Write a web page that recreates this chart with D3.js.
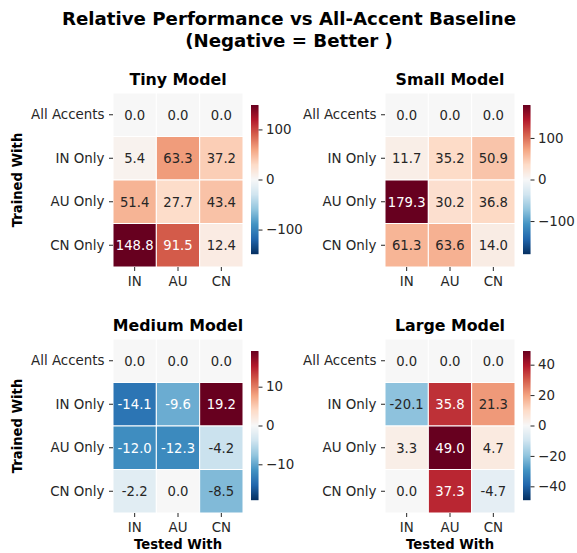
<!DOCTYPE html>
<html>
<head>
<meta charset="utf-8">
<script src="https://cdn.jsdelivr.net/npm/d3@7"></script>
<style>
  body { margin: 0; background: #fff; }
  svg text { font-family: "DejaVu Sans", sans-serif; }
</style>
</head>
<body>
<svg width="577" height="553"></svg>
<script>
// data
var trainedWith = ["All Accents", "IN Only", "AU Only", "CN Only"];
var testedWith = ["IN", "AU", "CN"];
var modelNames = ["Tiny Model", "Small Model", "Medium Model", "Large Model"];
var tinyValues = [[0.0, 0.0, 0.0], [5.4, 63.3, 37.2], [51.4, 27.7, 43.4], [148.8, 91.5, 12.4]];
var smallValues = [[0.0, 0.0, 0.0], [11.7, 35.2, 50.9], [179.3, 30.2, 36.8], [61.3, 63.6, 14.0]];
var mediumValues = [[0.0, 0.0, 0.0], [-14.1, -9.6, 19.2], [-12.0, -12.3, -4.2], [-2.2, 0.0, -8.5]];
var largeValues = [[0.0, 0.0, 0.0], [-20.1, 35.8, 21.3], [3.3, 49.0, 4.7], [0.0, 37.3, -4.7]];
var tinyTicks = [-100, 0, 100];
var smallTicks = [-100, 0, 100];
var mediumTicks = [-10, 0, 10];
var largeTicks = [-40, -20, 0, 20, 40];

var allValues = [tinyValues, smallValues, mediumValues, largeValues];
var allTicks = [tinyTicks, smallTicks, mediumTicks, largeTicks];

// matplotlib RdBu_r stops
var rdbuR = ["#053061", "#2166ac", "#4393c3", "#92c5de", "#d1e5f0", "#f7f7f7",
             "#fddbc7", "#f4a582", "#d6604d", "#b2182b", "#67001f"];

var svg = d3.select("svg");

svg.append("text").attr("x", 289).attr("y", 25).attr("text-anchor", "middle")
    .attr("font-size", 18.2).attr("font-weight", "bold")
    .text("Relative Performance vs All-Accent Baseline");
svg.append("text").attr("x", 289).attr("y", 47).attr("text-anchor", "middle")
    .attr("font-size", 18.2).attr("font-weight", "bold")
    .text("(Negative = Better )");

var hmW = 130, hmH = 174;
var colX = [113, 385], rowY = [93, 339];
var tickFont = 13.4;

function luminance(c) {
    var rgb = d3.rgb(c);
    var ch = [rgb.r, rgb.g, rgb.b].map(function(v) {
        v = v / 255;
        return v <= 0.03928 ? v / 12.92 : Math.pow((v + 0.055) / 1.055, 2.4);
    });
    return 0.2126 * ch[0] + 0.7152 * ch[1] + 0.0722 * ch[2];
}

allValues.forEach(function(vals, k) {
    var col = k % 2, row = Math.floor(k / 2);
    var g = svg.append("g").attr("transform", "translate(" + colX[col] + "," + rowY[row] + ")");
    var vmax = d3.max(vals, function(r) { return d3.max(r, function(v) { return Math.abs(v); }); });

    var color = d3.scaleLinear()
        .domain(d3.range(11).map(function(i) { return -vmax + i * vmax / 5; }))
        .range(rdbuR)
        .interpolate(d3.interpolateRgb)
        .clamp(true);

    var x = d3.scaleBand().domain(testedWith).range([0, hmW]);
    var y = d3.scaleBand().domain(trainedWith).range([0, hmH]);

    var cells = [];
    vals.forEach(function(r, i) {
        r.forEach(function(v, j) { cells.push({ row: trainedWith[i], col: testedWith[j], v: v }); });
    });

    g.selectAll("rect.cell").data(cells).enter().append("rect")
        .attr("class", "cell")
        .attr("x", function(d) { return x(d.col); })
        .attr("y", function(d) { return y(d.row); })
        .attr("width", x.bandwidth())
        .attr("height", y.bandwidth())
        .attr("fill", function(d) { return color(d.v); })
        .attr("stroke", "#fff")
        .attr("stroke-width", 1);

    g.selectAll("text.annot").data(cells).enter().append("text")
        .attr("class", "annot")
        .attr("x", function(d) { return x(d.col) + x.bandwidth() / 2; })
        .attr("y", function(d) { return y(d.row) + y.bandwidth() / 2; })
        .attr("dy", "0.36em")
        .attr("text-anchor", "middle")
        .attr("font-size", 13.2)
        .attr("fill", function(d) { return luminance(color(d.v)) > 0.408 ? "#262626" : "#fff"; })
        .text(function(d) { return d.v.toFixed(1); });

    // axes
    var yAxis = g.append("g").call(d3.axisLeft(y).tickSize(4).tickPadding(4.5));
    var xAxis = g.append("g").attr("transform", "translate(0," + hmH + ")")
        .call(d3.axisBottom(x).tickSize(4).tickPadding(5.5));
    [yAxis, xAxis].forEach(function(a) {
        a.select(".domain").remove();
        a.selectAll("text").attr("font-size", tickFont).attr("fill", "#262626").attr("font-family", "DejaVu Sans");
        a.selectAll("line").attr("stroke", "#262626");
    });

    g.append("text").attr("x", hmW / 2).attr("y", -8).attr("text-anchor", "middle")
        .attr("font-size", 15.8).attr("font-weight", "bold").text(modelNames[k]);

    if (col === 0) {
        g.append("text")
            .attr("transform", "translate(-91," + (hmH / 2) + ") rotate(-90)")
            .attr("text-anchor", "middle").attr("font-size", 13.2).attr("font-weight", "bold")
            .text("Trained With");
    }
    if (row === 1) {
        g.append("text").attr("x", hmW / 2).attr("y", hmH + 36).attr("text-anchor", "middle")
            .attr("font-size", 13.2).attr("font-weight", "bold").text("Tested With");
    }

    // colorbar
    var cbX = 138, cbY = 12, cbW = 7.5, cbH = 149;
    var cbScale = d3.scaleLinear().domain([-vmax, vmax]).range([cbY + cbH, cbY]);
    var steps = d3.range(0, cbH, 1);
    g.selectAll("rect.cb").data(steps).enter().append("rect")
        .attr("class", "cb")
        .attr("x", cbX).attr("y", function(s) { return cbY + s; })
        .attr("width", cbW).attr("height", 1.2)
        .attr("fill", function(s) { return color(cbScale.invert(cbY + s + 0.5)); });
    var cbAxis = g.append("g").attr("transform", "translate(" + (cbX + cbW) + ",0)")
        .call(d3.axisRight(cbScale).tickValues(allTicks[k]).tickSize(4).tickPadding(3.5)
            .tickFormat(function(v) { return v < 0 ? "\u2212" + Math.abs(v) : String(v); }));
    cbAxis.select(".domain").remove();
    cbAxis.selectAll("text").attr("font-size", tickFont).attr("fill", "#262626").attr("font-family", "DejaVu Sans");
    cbAxis.selectAll("line").attr("stroke", "#262626");
});
</script>
</body>
</html>
